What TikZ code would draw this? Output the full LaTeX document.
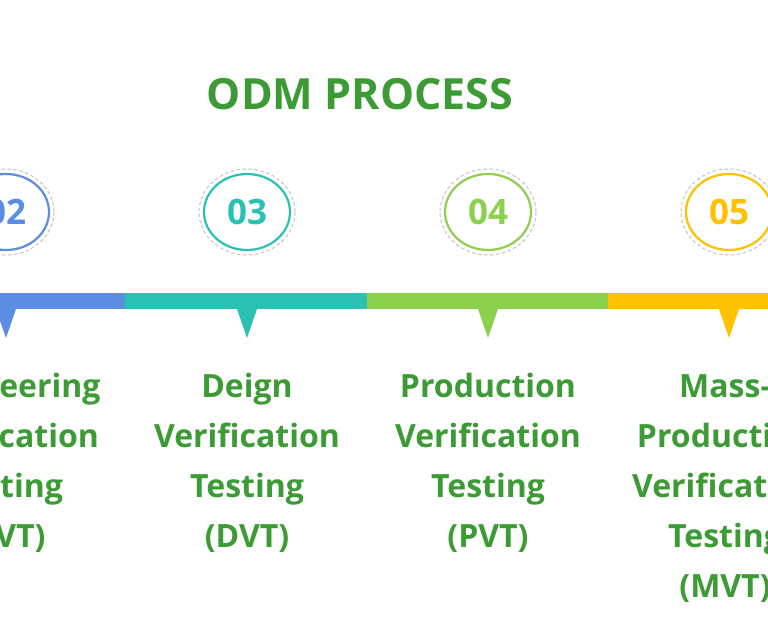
\documentclass[tikz,border=0pt]{standalone}
\usepackage{fontspec}
\setmainfont{Open Sans}
\usetikzlibrary{shapes.geometric}
\definecolor{cblue}{RGB}{91,141,226}
\definecolor{cteal}{RGB}{43,193,178}
\definecolor{clgreen}{RGB}{140,208,78}
\definecolor{cyellow}{RGB}{255,192,0}
\definecolor{ctext}{RGB}{61,155,53}
\definecolor{cdash}{RGB}{190,190,190}
\tikzset{
  numring/.style={ellipse, draw=#1, line width=2.2pt, minimum width=86pt, minimum height=76pt, inner sep=0pt,
     text=#1, font=\fontsize{35}{35}\selectfont\bfseries},
  outerring/.style={draw=cdash, line width=0.9pt, dash pattern=on 3.5pt off 2.5pt},
  steptext/.style={text=ctext, text width=260pt, align=center, anchor=base, inner sep=0pt,
     font=\fontsize{32}{50}\selectfont\bfseries},
  pointer/.style={fill=#1, draw=none}
}
\begin{document}
\begin{tikzpicture}[x=1pt,y=-1pt]
\useasboundingbox (0,0) rectangle (768,644);
\clip (0,0) rectangle (768,644);
\fill[white] (0,0) rectangle (768,644);
% title
\node[text=ctext, anchor=base, inner sep=0pt, font=\fontsize{43}{43}\selectfont\bfseries] (title) at (360,110) {ODM PROCESS};
% bar
\fill[cblue] (-150,293) rectangle (125,309);
\fill[cteal] (125,293) rectangle (367,309);
\fill[clgreen] (367,293) rectangle (608,309);
\fill[cyellow] (608,293) rectangle (900,309);
% pointers
\fill[pointer=cblue] (-4,309) -- (16,309) -- (6,338) -- cycle;
\fill[pointer=cteal] (237,309) -- (257,309) -- (247,338) -- cycle;
\fill[pointer=clgreen] (478,309) -- (498,309) -- (488,338) -- cycle;
\fill[pointer=cyellow] (719,309) -- (739,309) -- (729,338) -- cycle;
% rings
\foreach \cx in {6,247,488,729}{
  \draw[outerring] (\cx,212) ellipse [x radius=48, y radius=43];
}
\node[numring=cblue] (n2) at (6,212) {02};
\node[numring=cteal] (n3) at (247,212) {03};
\node[numring=clgreen] (n4) at (488,212) {04};
\node[numring=cyellow] (n5) at (729,212) {05};
% texts
\node[steptext] (t2) at (6,397) {Engineering\\Verification\\Testing\\(EVT)};
\node[steptext] (t3) at (247,397) {Deign\\Verification\\Testing\\(DVT)};
\node[steptext] (t4) at (488,397) {Production\\Verification\\Testing\\(PVT)};
\node[steptext] (t5) at (725,397) {Mass-\\Production\\Verification\\Testing\\(MVT)};
\end{tikzpicture}
\end{document}
